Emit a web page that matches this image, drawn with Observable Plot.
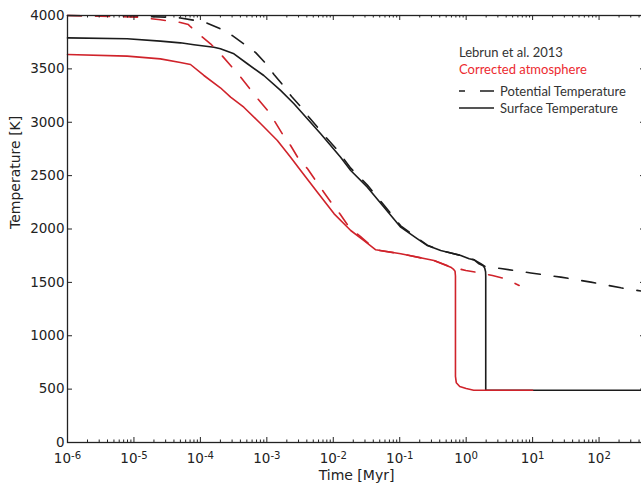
<!DOCTYPE html>
<html><head><meta charset="utf-8">
<script src="https://cdn.jsdelivr.net/npm/d3@7"></script>
<script src="https://cdn.jsdelivr.net/npm/@observablehq/plot@0.6"></script>
<style>html,body{margin:0;padding:0;overflow:hidden;background:#fff} svg{max-width:none !important;display:block}</style>
</head><body><div id="chart"></div>
<script>
// ---- Data (time in Myr, temperature in K) ----
const lebrunPotentialTime = [1e-6, 1e-5, 3e-5, 5e-5, 1e-4, 1.27e-4, 2.0e-4, 3.0e-4, 4.5e-4, 6.8e-4, 9.6e-4, 1.28e-3, 1.71e-3, 2.36e-3, 3.23e-3, 4.31e-3, 5.89e-3, 7.87e-3, 1.09e-2, 1.83e-2, 3.26e-2, 5.81e-2, 0.1035, 0.185, 0.26, 0.41, 0.83, 1.32, 1.66, 1.97, 3.32, 9.4, 26.6, 75.3, 213, 500];
const lebrunPotentialTemp = [4000, 3992, 3985, 3977, 3945, 3928, 3875, 3813, 3735, 3652, 3552, 3448, 3354, 3241, 3147, 3047, 2948, 2854, 2757, 2570, 2412, 2222, 2030, 1915, 1848, 1800, 1752, 1711, 1676, 1645, 1630, 1588, 1549, 1502, 1449, 1412];

const lebrunSurfaceTime = [1e-6, 7.9e-6, 2.5e-5, 5e-5, 8e-5, 1.6e-4, 2e-4, 3.2e-4, 5.1e-4, 9.0e-4, 1.61e-3, 2.56e-3, 4.07e-3, 6.46e-3, 1.29e-2, 1.83e-2, 3.26e-2, 5.81e-2, 0.1035, 0.185, 0.261, 0.414, 0.83, 1.11, 1.32, 1.56, 1.80, 1.90, 1.96, 1.97, 1.97, 500];
const lebrunSurfaceTemp = [3790, 3782, 3760, 3744, 3726, 3703, 3688, 3641, 3548, 3438, 3298, 3173, 3032, 2892, 2673, 2548, 2392, 2204, 2017, 1908, 1845, 1799, 1752, 1721, 1711, 1674, 1655, 1635, 1600, 1560, 490, 490];

const correctedPotentialTime = [1e-6, 3.1e-6, 1.12e-5, 2.5e-5, 5e-5, 6.6e-5, 7.1e-5, 1e-4, 1.42e-4, 2.0e-4, 2.85e-4, 4.04e-4, 5.4e-4, 7.3e-4, 1.03e-3, 1.29e-3, 1.71e-3, 2.28e-3, 3.0e-3, 4.1e-3, 5.42e-3, 7.2e-3, 9.6e-3, 1.28e-2, 1.7e-2, 2.55e-2, 4.36e-2, 0.1035, 0.328, 0.586, 0.99, 1.56, 2.49, 3.94, 6.27];
const correctedPotentialTemp = [4000, 3994, 3984, 3960, 3935, 3915, 3895, 3813, 3735, 3641, 3532, 3422, 3323, 3220, 3110, 3016, 2892, 2782, 2658, 2564, 2454, 2345, 2236, 2136, 2024, 1930, 1805, 1768, 1705, 1645, 1611, 1590, 1564, 1534, 1471];

const correctedSurfaceTime = [1e-6, 7.9e-6, 2.5e-5, 5e-5, 7.1e-5, 1.13e-4, 2.0e-4, 2.85e-4, 4.5e-4, 8.1e-4, 1.44e-3, 2.28e-3, 3.23e-3, 5.77e-3, 1.03e-2, 1.83e-2, 2.9e-2, 4.36e-2, 0.1035, 0.328, 0.586, 0.64, 0.68, 0.69, 0.69, 0.71, 0.8, 1.0, 1.3, 10];
const correctedSurfaceTemp = [3635, 3619, 3594, 3560, 3541, 3438, 3323, 3235, 3141, 2986, 2829, 2673, 2548, 2345, 2142, 1986, 1892, 1805, 1768, 1705, 1642, 1625, 1605, 1560, 620, 560, 525, 505, 490, 490];

// ---- Tick labels ----
const xMajorTicks = [1e-6, 1e-5, 1e-4, 1e-3, 1e-2, 1e-1, 1, 10, 100];
const xMinorTicks = [];
for (const d of xMajorTicks) for (let m = 2; m <= 9; m++) if (d * m <= 500) xMinorTicks.push(d * m);
const yTicks = [0, 500, 1000, 1500, 2000, 2500, 3000, 3500, 4000];

const legendTitles = ["Lebrun et al. 2013", "Corrected atmosphere"];
const legendEntries = ["Potential Temperature", "Surface Temperature"];

const zip = (ts, vs) => ts.map((t, i) => ({t, v: vs[i]}));
const lebrunPotential = zip(lebrunPotentialTime, lebrunPotentialTemp);
const lebrunSurface = zip(lebrunSurfaceTime, lebrunSurfaceTemp);
const correctedPotential = zip(correctedPotentialTime, correctedPotentialTemp);
const correctedSurface = zip(correctedSurfaceTime, correctedSurfaceTemp);

const BLACK = "#1c1c1c", RED = "#d0232b", AXIS = "#222";
const W = 645, H = 483, ML = 67, MT = 15, MB = 41;
const plotH = H - MT - MB, plotW = W - ML;

const svg = Plot.plot({
  width: W, height: H,
  marginLeft: ML, marginRight: 0, marginTop: MT, marginBottom: MB,
  style: {fontFamily: "DejaVu Sans", fontSize: "13.5px", color: AXIS, background: "#fff", maxWidth: "none"},
  x: {type: "log", domain: [1e-6, 500], label: null},
  y: {domain: [0, 4000], label: null},
  marks: [
    Plot.line(lebrunPotential, {x: "t", y: "v", stroke: BLACK, strokeWidth: 1.6, strokeDasharray: "14,14"}),
    Plot.line(lebrunSurface, {x: "t", y: "v", stroke: BLACK, strokeWidth: 1.6}),
    Plot.line(correctedPotential, {x: "t", y: "v", stroke: RED, strokeWidth: 1.6, strokeDasharray: "14,14"}),
    Plot.line(correctedSurface, {x: "t", y: "v", stroke: RED, strokeWidth: 1.6}),
    Plot.frame({stroke: AXIS, strokeWidth: 1.3}),
    Plot.tickX(xMajorTicks, {x: d => d, insetTop: plotH - 5, stroke: AXIS}),
    Plot.tickX(xMajorTicks, {x: d => d, insetBottom: plotH - 5, stroke: AXIS}),
    Plot.tickX(xMinorTicks, {x: d => d, insetTop: plotH - 2.5, stroke: AXIS}),
    Plot.tickX(xMinorTicks, {x: d => d, insetBottom: plotH - 2.5, stroke: AXIS}),
    Plot.tickY(yTicks, {y: d => d, insetRight: plotW - 5, stroke: AXIS}),
    Plot.tickY(yTicks, {y: d => d, insetLeft: plotW - 5, stroke: AXIS}),
    Plot.axisX({ticks: xMajorTicks, tickSize: 0, tickPadding: 11, label: null,
      tickFormat: d => "10^" + Math.round(Math.log10(d))}),
    Plot.axisY({ticks: yTicks, tickSize: 0, tickPadding: 3, label: null, tickFormat: d3.format("d")}),
    Plot.text(["Time [Myr]"], {frameAnchor: "bottom", dy: 37, fontSize: 14, fill: AXIS}),
    Plot.text(["Temperature [K]"], {frameAnchor: "left", dx: -52, rotate: -90, fontSize: 14, fill: AXIS})
  ]
});
svg.style.maxWidth = "none";

// superscript exponents on x tick labels
d3.select(svg).selectAll('g[aria-label="x-axis tick label"] text').each(function() {
  const s = this.textContent;
  const m = s.match(/^10\^(-?\d+)$/);
  if (!m) return;
  const el = d3.select(this);
  el.text(null);
  el.append("tspan").text("10");
  el.append("tspan").attr("dy", "-0.45em").attr("font-size", "0.75em").text(m[1]);
});

// legend (inside plot area)
const lg = d3.select(svg).append("g")
  .attr("font-family", "Lato, 'Open Sans', sans-serif").attr("font-size", 13).attr("text-anchor", "start");
lg.append("text").attr("x", 459).attr("y", 57).attr("fill", "#333").text(legendTitles[0]);
lg.append("text").attr("x", 459).attr("y", 73.5).attr("fill", "#ec2a2f").text(legendTitles[1]);
lg.append("line").attr("x1", 459).attr("x2", 494).attr("y1", 91).attr("y2", 91)
  .attr("stroke", BLACK).attr("stroke-width", 1.6).attr("stroke-dasharray", "14,15").attr("stroke-dashoffset", 8);
lg.append("text").attr("x", 500).attr("y", 96).attr("fill", "#333").text(legendEntries[0]);
lg.append("line").attr("x1", 459).attr("x2", 494).attr("y1", 108).attr("y2", 108)
  .attr("stroke", BLACK).attr("stroke-width", 1.6);
lg.append("text").attr("x", 500).attr("y", 112.5).attr("fill", "#333").text(legendEntries[1]);

document.getElementById("chart").appendChild(svg);
</script></body></html>
